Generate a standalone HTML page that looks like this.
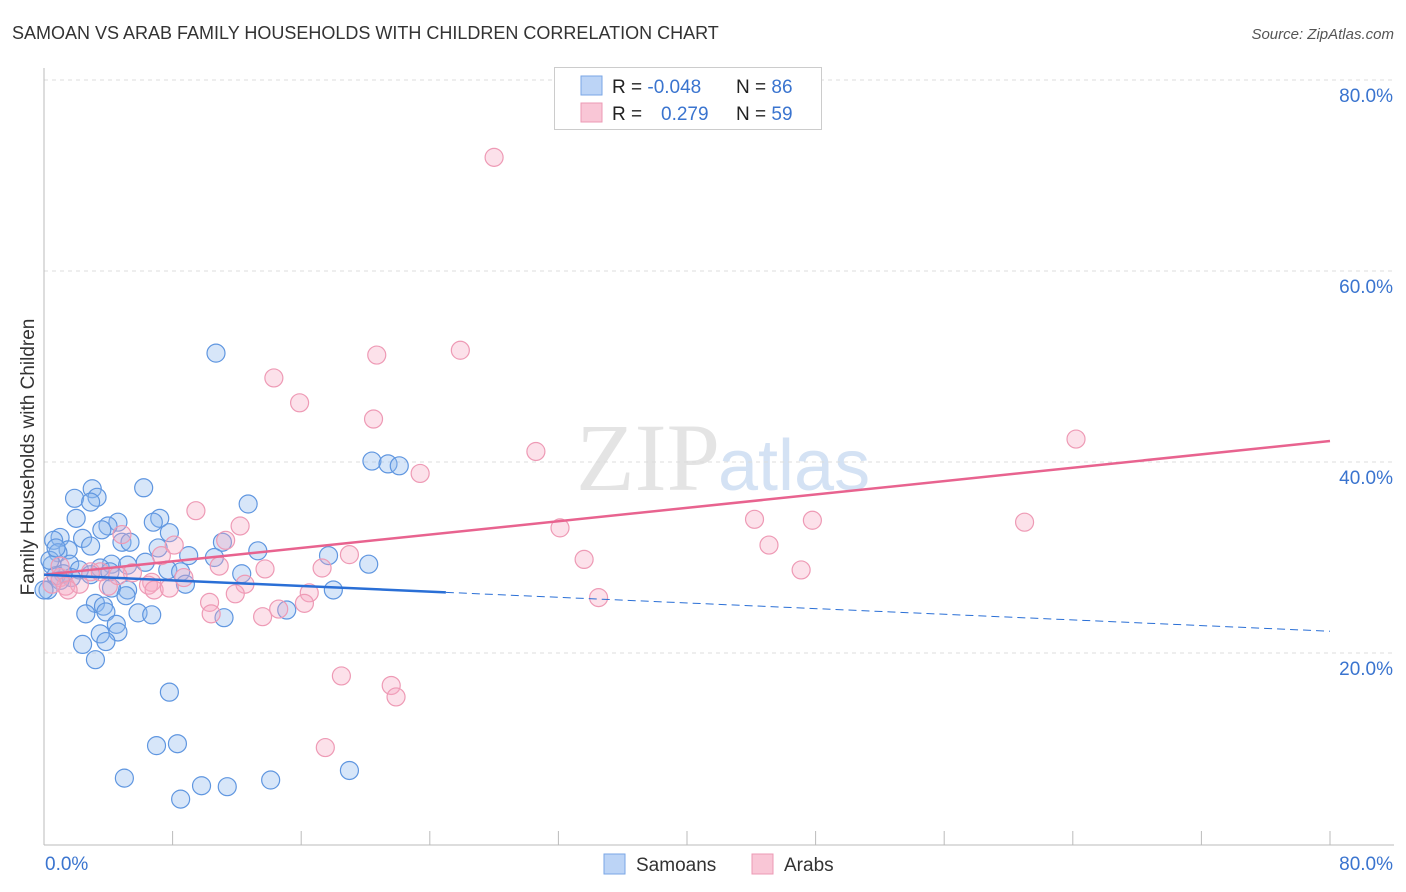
<!DOCTYPE html>
<html><head><meta charset="utf-8"><style>
body{margin:0;background:#fff;font-family:"Liberation Sans",sans-serif;}
svg{display:block}
</style></head><body>
<svg id="chart" width="1406" height="892">
<text x="12" y="39" font-size="18" fill="#333">SAMOAN VS ARAB FAMILY HOUSEHOLDS WITH CHILDREN CORRELATION CHART</text>
<text x="1394" y="39" font-size="15" fill="#555" font-style="italic" text-anchor="end">Source: ZipAtlas.com</text>
<text x="720" y="490" font-size="96" fill="#e4e4e4" font-family="Liberation Serif,serif" text-anchor="end">ZIP</text>
<text x="718" y="490" font-size="72" fill="#d4e2f4">atlas</text>
<text transform="translate(34,457) rotate(-90)" font-size="19" fill="#333" text-anchor="middle">Family Households with Children</text>
<g id="grid"></g><g id="axes"></g><g id="pts"></g><g id="trend"></g>
<g>
<rect x="554.5" y="67.5" width="267" height="62" fill="#fff" stroke="#ccc"/>
<rect x="581" y="76" width="21" height="19" fill="#bcd4f6" stroke="#7aa6e6"/>
<rect x="581" y="103" width="21" height="19" fill="#f9c6d6" stroke="#ec9ab4"/>
<text x="612" y="93" font-size="19" fill="#222">R = <tspan fill="#3a74cf">-0.048</tspan></text>
<text x="736" y="93" font-size="19" fill="#222">N = <tspan fill="#3a74cf">86</tspan></text>
<text x="612" y="120" font-size="19" fill="#222">R = <tspan fill="#3a74cf" x="661">0.279</tspan></text>
<text x="736" y="120" font-size="19" fill="#222">N = <tspan fill="#3a74cf">59</tspan></text>
</g>
<g>
<rect x="604" y="854" width="21" height="20" fill="#bcd4f6" stroke="#7aa6e6"/>
<text x="636" y="871" font-size="19" fill="#333">Samoans</text>
<rect x="752" y="854" width="21" height="20" fill="#f9c6d6" stroke="#ec9ab4"/>
<text x="784" y="871" font-size="19" fill="#333">Arabs</text>
</g>
</svg>
<script>
const blueX=[10.7,20.4,21.4,22.1,6.2,3.0,3.3,1.9,2.9,12.7,2.0,7.2,6.8,4.6,3.98,3.6,7.8,1.0,2.4,0.6,4.85,5.35,11.1,2.9,7.1,13.3,1.5,0.87,9.0,17.7,10.6,6.3,4.2,1.6,5.2,0.5,20.2,3.5,2.2,7.7,8.5,4.1,1.2,2.9,12.3,0.75,1.7,8.8,1.0,0.25,5.2,4.2,18.0,5.1,3.2,3.7,2.6,5.85,6.7,3.85,11.2,15.1,4.5,3.5,4.6,3.85,2.4,3.2,7.8,7.0,8.3,5.0,14.1,19.0,9.8,11.4,8.5,0,0.37,0.75];
const blueY=[51.4,40.1,39.8,39.6,37.3,37.2,36.3,36.2,35.8,35.6,34.1,34.1,33.7,33.7,33.3,32.9,32.6,32.1,32.0,31.8,31.6,31.6,31.6,31.2,31.0,30.7,30.8,30.5,30.2,30.2,30.0,29.5,29.3,29.3,29.2,29.2,29.3,28.9,28.7,28.7,28.5,28.5,28.3,28.2,28.3,28.1,27.9,27.2,27.6,26.6,26.6,26.8,26.6,26.0,25.2,24.9,24.1,24.2,24.0,24.3,23.7,24.5,23.0,22.0,22.2,21.2,20.9,19.3,15.9,10.3,10.5,6.9,6.7,7.7,6.1,6.0,4.7,26.6,29.7,31.0];
const pinkX=[28.0,25.9,20.7,14.3,15.9,20.5,64.2,30.6,23.4,9.45,44.2,47.8,61.0,32.1,12.2,4.85,11.3,8.1,45.1,19.0,7.3,33.6,10.9,17.3,13.75,47.1,2.9,5.5,8.7,1.0,6.7,12.5,4.0,6.5,1.35,2.2,16.5,11.9,6.85,0.5,34.5,10.3,16.2,14.6,10.4,13.6,18.5,21.6,21.9,17.5,1.0,1.5,3.5,4.6,7.8];
const pinkY=[71.9,51.7,51.2,48.8,46.2,44.5,42.4,41.1,38.8,34.9,34.0,33.9,33.7,33.1,33.3,32.4,31.8,31.3,31.3,30.3,30.2,29.8,29.1,28.9,28.8,28.7,28.5,28.4,27.9,27.9,27.4,27.2,27.0,27.1,27.0,27.2,26.3,26.2,26.6,27.2,25.8,25.3,25.2,24.6,24.1,23.8,17.6,16.6,15.4,10.1,29.1,26.6,28.5,28.1,26.8];
const yTicks=[20,40,60,80];
const xTicks=[0,80];
const blueTrend=[28.2,-0.074]; // intercept, slope
const pinkTrend=[28.2,0.175];
const blueSolidEnd=25;
const X=v=>44+v*16.075, Y=v=>844-v*9.55;
const NS="http://www.w3.org/2000/svg";
function mk(p,t,a){const e=document.createElementNS(NS,t);for(const k in a)e.setAttribute(k,a[k]);document.getElementById(p).appendChild(e);return e;}
yTicks.forEach(t=>{
 const l=mk('grid','line',{x1:44,x2:1394,y1:Y(t),y2:Y(t),stroke:'#ddd','stroke-dasharray':'4,4'});
 
 
 const tx=mk('grid','text',{x:1393,y:Y(t)+22,'font-size':19,fill:'#3a74cf','text-anchor':'end'});tx.textContent=t.toFixed(1)+'%';
 
 
});
mk('axes','line',{x1:44,x2:44,y1:68,y2:845,stroke:'#bbb'});
mk('axes','line',{x1:44,x2:1394,y1:845,y2:845,stroke:'#bbb'});
for(let i=1;i<=10;i++){mk('axes','line',{x1:44+i*128.6,x2:44+i*128.6,y1:831,y2:845,stroke:'#bbb'});}
xTicks.forEach((t,i)=>{const tx=mk('axes','text',{x:i?1393:45,y:870,'font-size':19,fill:'#3a74cf','text-anchor':i?'end':'start'});tx.textContent=t.toFixed(1)+'%';
 
 });
blueX.forEach((x,i)=>{const c=mk('pts','circle',{cx:X(x),cy:Y(blueY[i]),r:9,fill:'rgba(140,182,238,0.35)',stroke:'#5f96e0','stroke-width':1.2});
 
 });
pinkX.forEach((x,i)=>{const c=mk('pts','circle',{cx:X(x),cy:Y(pinkY[i]),r:9,fill:'rgba(246,170,195,0.35)',stroke:'#ee9ab5','stroke-width':1.2});
 
 });
const f=(tr,x)=>tr[0]+tr[1]*x;
let l=mk('trend','line',{x1:X(0),y1:Y(f(pinkTrend,0)),x2:X(80),y2:Y(f(pinkTrend,80)),stroke:'#e8638f','stroke-width':2.5});


l=mk('trend','line',{x1:X(0),y1:Y(f(blueTrend,0)),x2:X(blueSolidEnd),y2:Y(f(blueTrend,blueSolidEnd)),stroke:'#2a6fd6','stroke-width':2.5});


l=mk('trend','line',{x1:X(blueSolidEnd),y1:Y(f(blueTrend,blueSolidEnd)),x2:X(80),y2:Y(f(blueTrend,80)),stroke:'#2a6fd6','stroke-width':1,'stroke-dasharray':'8,5'});


</script>
</body></html>
